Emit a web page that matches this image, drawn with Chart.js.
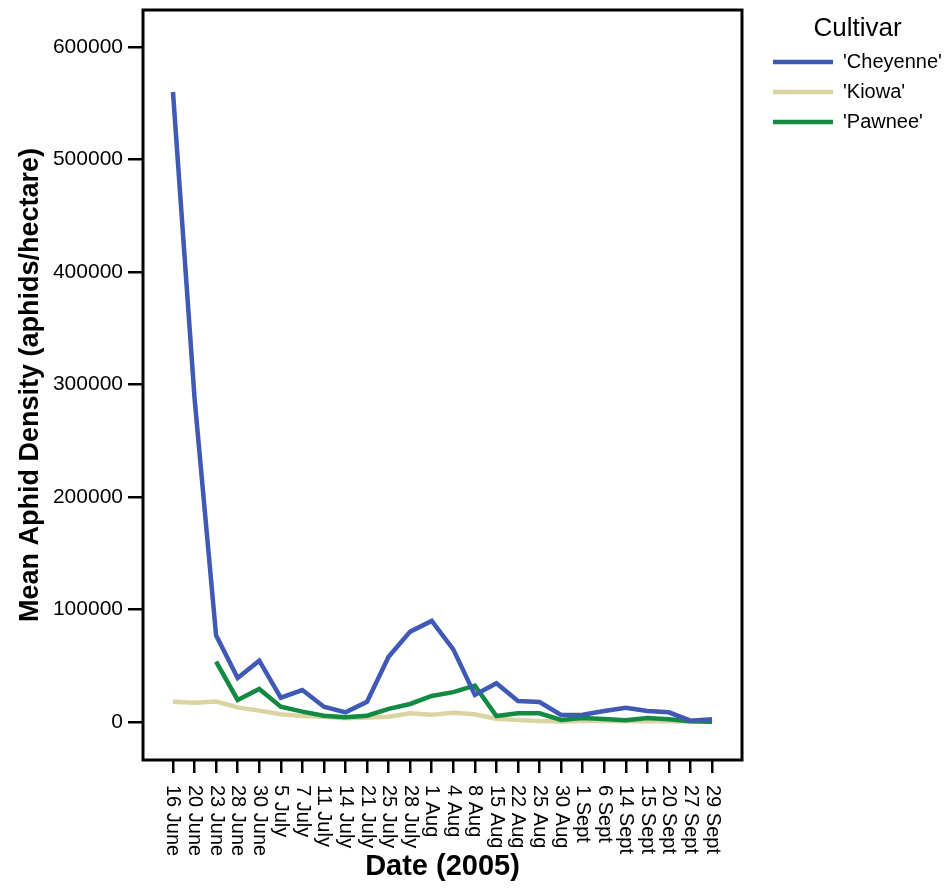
<!DOCTYPE html>
<html>
<head>
<meta charset="utf-8">
<script src="https://cdn.jsdelivr.net/npm/chart.js@4.4.1/dist/chart.umd.min.js"></script>
<style>
  html, body { margin: 0; padding: 0; background: #fff; }
  #wrap { width: 952px; height: 888px; }
</style>
</head>
<body>
<div id="wrap"><canvas id="chart"></canvas></div>
<script>
const dates = ['16 June', '20 June', '23 June', '28 June', '30 June', '5 July', '7 July',
  '11 July', '14 July', '21 July', '25 July', '28 July', '1 Aug', '4 Aug', '8 Aug',
  '15 Aug', '22 Aug', '25 Aug', '30 Aug', '1 Sept', '6 Sept', '14 Sept', '15 Sept',
  '20 Sept', '27 Sept', '29 Sept'];

const cheyenne = [560000, 288000, 77000, 39000, 54500, 21600, 28400, 13600, 8600, 18000,
  58000, 80300, 89800, 64600, 24000, 34400, 18700, 17800, 6200, 6500, 9800, 12700, 9800,
  8600, 1200, 2400];
const kiowa = [18000, 17200, 18100, 13000, 10100, 6800, 5300, 4700, 3300, 4000, 4700, 7700,
  6500, 8300, 6800, 2900, 1800, 900, 500, 800, 900, 700, 900, 600, 400, 300];
const pawnee = [null, null, 53600, 19600, 29300, 13600, 9200, 5600, 4100, 5600, 11600, 16000,
  23100, 26500, 32300, 5300, 7700, 7700, 1800, 3600, 2700, 1500, 3600, 2400, 600, 300];

const yTicks = [0, 100000, 200000, 300000, 400000, 500000, 600000];

const FONT = '"Liberation Sans", Arial, Helvetica, sans-serif';

const toPoints = arr => arr.map((v, i) => ({ x: i, y: v })).filter(p => p.y !== null);

function line(label, values, color, order) {
  return {
    label,
    data: toPoints(values),
    borderColor: color,
    backgroundColor: color,
    borderWidth: 4.5,
    pointRadius: 0,
    tension: 0,
    order
  };
}

// box round the plot area
const frame = {
  id: 'frame',
  afterDatasetsDraw(chart) {
    const { ctx, chartArea: a } = chart;
    ctx.save();
    ctx.strokeStyle = '#000';
    ctx.lineWidth = 3;
    ctx.strokeRect(a.left, a.top, a.right - a.left, a.bottom - a.top);
    ctx.restore();
  }
};

// fixed legend width so the plot keeps its size
const legendSize = {
  id: 'legendSize',
  beforeLayout(chart) {
    const lg = chart.legend;
    if (!lg || lg._sized) return;
    const fit = lg.fit;
    lg.fit = function () {
      fit.call(this);
      this.width = 189;
      if (this.columnSizes && this.columnSizes[0]) this.columnSizes[0].width = 214;
    };
    lg._sized = true;
  }
};

// date labels read top to bottom, so draw them ourselves
const dateLabels = {
  id: 'dateLabels',
  afterDraw(chart) {
    const { ctx } = chart;
    const x = chart.scales.x;
    ctx.save();
    ctx.font = '20px ' + FONT;
    ctx.fillStyle = '#000';
    ctx.textAlign = 'left';
    ctx.textBaseline = 'middle';
    dates.forEach((d, i) => {
      ctx.save();
      ctx.translate(x.getPixelForValue(i), x.top + 25);
      ctx.rotate(Math.PI / 2);
      ctx.fillText(d, 0, 0);
      ctx.restore();
    });
    ctx.restore();
  }
};

new Chart(document.getElementById('chart'), {
  type: 'line',
  data: {
    datasets: [
      line("'Cheyenne'", cheyenne, '#3F59B4', 1),
      line("'Kiowa'", kiowa, '#D9D4A2', 3),
      line("'Pawnee'", pawnee, '#138A42', 2)
    ]
  },
  options: {
    responsive: true,
    maintainAspectRatio: false,
    animation: false,
    devicePixelRatio: 1,
    layout: { padding: { top: 10, left: 0, right: 0, bottom: 0 } },
    plugins: {
      tooltip: { enabled: false },
      legend: {
        position: 'right',
        align: 'start',
        title: {
          display: true,
          text: 'Cultivar',
          color: '#000',
          font: { family: FONT, size: 26, lineHeight: 1 },
          padding: { top: 6, bottom: 0 }
        },
        labels: {
          color: '#000',
          font: { family: FONT, size: 20 },
          boxWidth: 60,
          boxHeight: 0,
          padding: 10,
          sort: (a, b) => a.datasetIndex - b.datasetIndex
        }
      }
    },
    scales: {
      x: {
        type: 'linear',
        min: -1.39,
        max: 26.39,
        afterBuildTicks: s => { s.ticks = dates.map((d, i) => ({ value: i })); },
        afterFit: s => { s.height = 128; s.paddingLeft = 0; s.paddingRight = 0; },
        grid: { display: true, drawOnChartArea: false, color: '#000', lineWidth: 2.5, tickLength: 13 },
        border: { display: false },
        ticks: { display: false },
        title: {
          display: true,
          text: 'Date (2005)',
          color: '#000',
          font: { family: FONT, size: 29, weight: 'bold' },
          padding: { top: 0, bottom: 4 }
        }
      },
      y: {
        min: -33800,
        max: 632900,
        afterBuildTicks: s => { s.ticks = yTicks.map(v => ({ value: v })); },
        afterFit: s => { s.width = 143; s.paddingTop = 0; s.paddingBottom = 0; },
        grid: { display: true, drawOnChartArea: false, color: '#000', lineWidth: 2.5, tickLength: 15 },
        border: { display: false },
        ticks: {
          color: '#000',
          font: { family: FONT, size: 21 },
          padding: 5,
          callback: v => String(v)
        },
        title: {
          display: true,
          text: 'Mean Aphid Density (aphids/hectare)',
          color: '#000',
          font: { family: FONT, size: 27, weight: 'bold' },
          padding: { top: 14, bottom: 0 }
        }
      },
      gap: {
        type: 'linear',
        position: 'right',
        display: true,
        afterFit: s => { s.width = 21; s.paddingTop = 0; s.paddingBottom = 0; },
        grid: { display: false },
        border: { display: false },
        ticks: { display: false }
      }
    }
  },
  plugins: [frame, legendSize, dateLabels]
});
</script>
</body>
</html>
